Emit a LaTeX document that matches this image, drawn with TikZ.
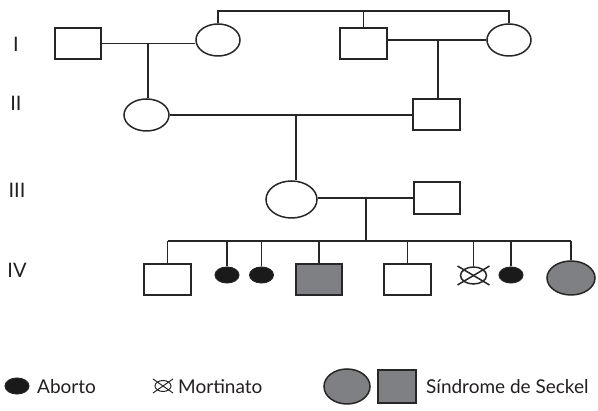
\documentclass[tikz,border=0pt]{standalone}
\usepackage{fontspec}
\setmainfont{Lato}
\usetikzlibrary{shapes.geometric}
\definecolor{ln}{HTML}{262626}
\definecolor{tx}{HTML}{231F20}
\definecolor{gfill}{HTML}{7F8083}
\definecolor{bfill}{HTML}{1A1A1A}
\begin{document}
\begin{tikzpicture}[x=1pt,y=-1pt,
  link/.style={line width=1.5pt, draw=ln},
  male/.style={rectangle, draw=ln, line width=1.5pt, minimum width=46pt, minimum height=31pt, inner sep=0pt},
  female/.style={ellipse, draw=ln, line width=1.5pt, inner sep=0pt},
  aborto/.style={ellipse, draw=ln, fill=bfill, line width=1pt, minimum width=24pt, minimum height=16pt, inner sep=0pt},
  affected/.style={fill=gfill},
  lbl/.style={font=\fontsize{19}{22}\selectfont, text=tx, inner sep=0pt},
]
\useasboundingbox (0,0) rectangle (598,411);

% generation labels
\node[lbl, font=\fontsize{20}{22}\selectfont] (gI) at (16,44) {I};
\node[lbl, font=\fontsize{20}{22}\selectfont] (gII) at (16,103) {II};
\node[lbl, font=\fontsize{20}{22}\selectfont] (gIII) at (17,190) {III};
\node[lbl, font=\fontsize{20}{22}\selectfont] (gIV) at (17,270) {IV};

% generation I
\node[male] (s1) at (78,43.5) {};
\node[female, minimum width=44pt, minimum height=32pt] (e1) at (218,40) {};
\node[male, minimum width=47pt] (s2) at (363.5,43.5) {};
\node[female, minimum width=44pt, minimum height=32pt] (e2) at (509,40) {};
\coordinate (top) at (0,11);
\coordinate (m1) at (148,43.5);
\coordinate (m2) at (438,40);

\draw[link] (s1.east) -- (s1.east -| e1.west);
\draw[link] (e2.west) -- (e2.west -| s2.east);
\draw[link] (e1.north) -- (e1.north |- top) -- (e2.north |- top) -- (e2.north);
\draw[link] (s2.north) -- (s2.north |- top);

% generation II
\node[female, minimum width=45pt, minimum height=32pt] (e3) at (146.5,115) {};
\node[male, minimum width=47pt] (s3) at (436.5,114.5) {};
\draw[link] (m1) -- (m1 |- e3.north);
\draw[link] (m2) -- (m2 |- s3.north);
\draw[link] (e3.east) -- (e3.east -| s3.west);
\coordinate (m3) at (296,115);

% generation III
\node[female, minimum width=51pt, minimum height=37pt] (e4) at (291.5,199.5) {};
\node[male, minimum height=32pt] (s4) at (437,198) {};
\draw[link] (m3) -- (m3 |- e4.north);
\draw[link] (s4.west) -- (s4.west -| e4.east);
\coordinate (m4) at (366,198);
\coordinate (sib) at (0,241);
\draw[link] (m4) -- (m4 |- sib);

% generation IV
\node[male, minimum width=47pt] (c1) at (167.5,279.5) {};
\node[aborto] (c2) at (227,275) {};
\node[aborto] (c3) at (261.5,275) {};
\node[male, affected] (c4) at (319,279.5) {};
\node[male, minimum width=47pt] (c5) at (407.5,279.5) {};
\node[female, minimum width=26pt, minimum height=17pt] (c6) at (473.5,275.5) {};
\node[aborto] (c7) at (511,275) {};
\node[female, affected, minimum width=48pt, minimum height=34pt] (c8) at (571,278) {};
\draw[link] (c6.center) ++(-16,-9.5) -- ++(32,19);
\draw[link] (c6.center) ++(-16,9.5) -- ++(32,-19);

\draw[link] (c1.north |- sib) -- (c8.north |- sib);
\foreach \c in {c1,c2,c3,c4,c5,c6,c7,c8}
  \draw[link] (\c.north) -- (\c.north |- sib);

% legend
\node[aborto, minimum width=24pt, minimum height=16pt] (la) at (17,386) {};
\node[lbl, anchor=west] (ta) at (37,387) {Aborto};
\node[female, line width=1pt, minimum width=16pt, minimum height=11pt] (lm) at (163,386) {};
\draw[link, line width=1pt] (lm.center) ++(-10,-7) -- ++(20,14);
\draw[link, line width=1pt] (lm.center) ++(-10,7) -- ++(20,-14);
\node[lbl, anchor=west] (tm) at (178,387) {Mortinato};
\node[female, affected, minimum width=46pt, minimum height=35pt] (lf) at (347,386.5) {};
\node[male, affected, minimum width=38pt, minimum height=33pt] (ls) at (397,386.5) {};
\node[lbl, anchor=west] (ts) at (426,387) {Síndrome de Seckel};
\end{tikzpicture}
\end{document}
